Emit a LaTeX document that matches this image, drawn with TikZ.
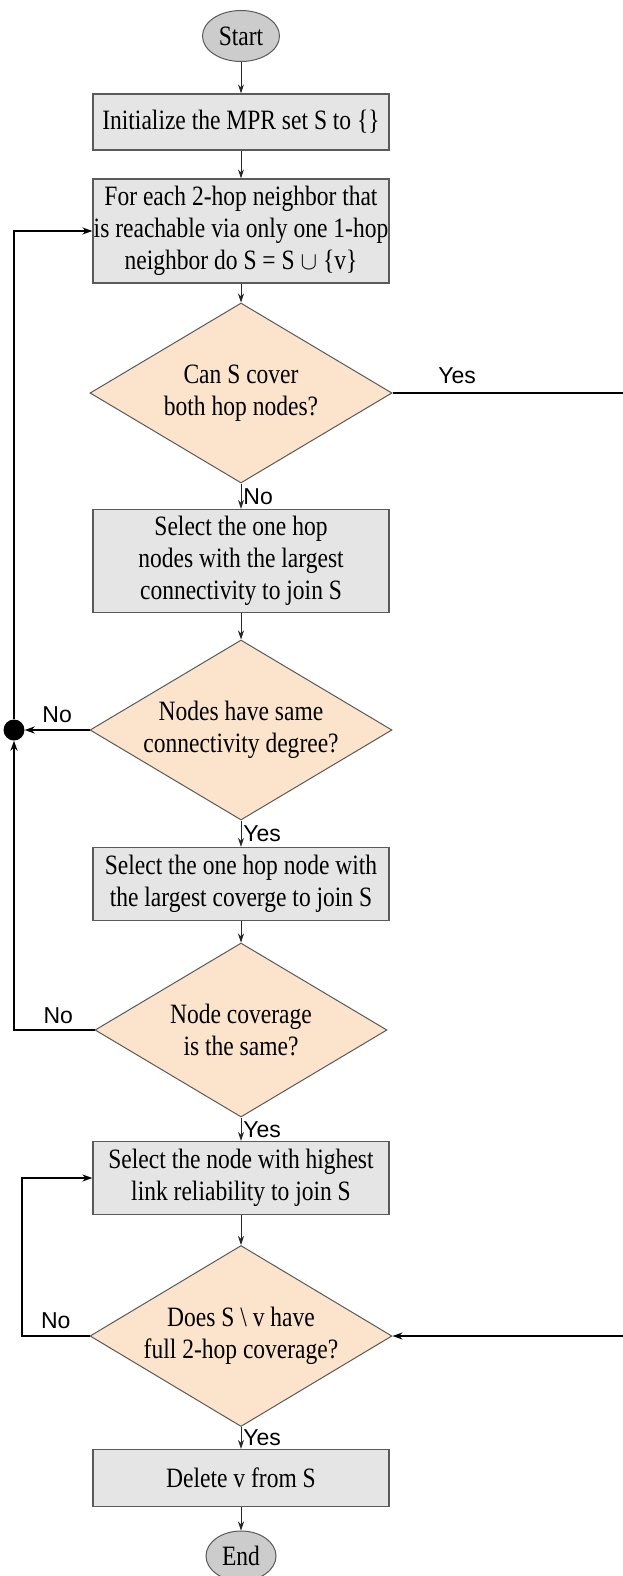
\documentclass[tikz,border=0pt]{standalone}
\usepackage{fontspec}
\setmainfont{Liberation Serif}[FakeStretch=0.84]
\newfontfamily\labelfont{Liberation Sans}
\usepackage{tikz}
\usetikzlibrary{arrows.meta, shapes.geometric, positioning}
\definecolor{boxfill}{RGB}{229,229,229}
\definecolor{decfill}{RGB}{252,228,204}
\definecolor{termfill}{RGB}{204,204,204}
\definecolor{edge}{RGB}{90,90,90}
\tikzset{
  procbox/.style={rectangle, draw=edge, line width=1.2pt, fill=boxfill, minimum width=296pt, inner sep=0pt, align=center},
  decision/.style={diamond, draw=edge, line width=1pt, fill=decfill, aspect=1.68, minimum width=302pt, minimum height=180pt, inner sep=0pt, align=center},
  terminal/.style={ellipse, draw=edge, line width=1pt, fill=termfill, inner sep=0pt},
  flow/.style={-{Stealth[length=9pt,width=6pt]}, draw=black!85, line width=0.9pt},
  loopline/.style={draw=black, line width=1.8pt},
  answer/.style={font=\labelfont\fontsize{23}{25}\selectfont, text=black, inner sep=2pt}
}
\begin{document}
\begin{tikzpicture}[x=1pt, y=-1pt, font=\fontsize{28}{31.7}\selectfont]
    \useasboundingbox (0,0) rectangle (623,1576);
    % main column
    \node[terminal, minimum width=77pt, minimum height=51pt] (start) at (241,36) {Start};
    \node[procbox, minimum height=56pt] (init) at (241,122) {Initialize the MPR set S to \{\}};
    \node[procbox, minimum height=104pt] (each) at (241,231) {For each 2-hop neighbor that\\is reachable via only one 1-hop\\neighbor do S = S \ensuremath{\cup} \{v\}};
    \node[decision] (cover) at (241,393) {Can S cover\\both hop nodes?};
    \node[procbox, minimum height=103pt] (pickconn) at (241,561) {Select the one hop\\nodes with the largest\\connectivity to join S};
    \node[decision] (samedeg) at (241,730) {Nodes have same\\connectivity degree?};
    \node[procbox, minimum height=73pt] (pickcov) at (241,884) {Select the one hop node with\\the largest coverge to join S};
    \node[decision, minimum width=292pt, minimum height=174pt] (samecov) at (241,1030) {Node coverage\\is the same?};
    \node[procbox, minimum height=73pt] (pickrel) at (241,1178) {Select the node with highest\\link reliability to join S};
    \node[decision, minimum height=181pt] (full) at (241,1336) {Does S \textbackslash{} v have\\full 2-hop coverage?};
    \node[procbox, minimum height=57pt] (delete) at (241,1478) {Delete v from S};
    \node[terminal, minimum width=70pt, minimum height=50pt] (end) at (241,1556) {End};

    \draw[flow] (start) -- (init);
    \draw[flow] (init) -- (each);
    \draw[flow] (each) -- (cover);
    \draw[flow] (cover) -- node[answer, right] {No} (pickconn);
    \draw[flow] (pickconn) -- (samedeg);
    \draw[flow] (samedeg) -- node[answer, right] {Yes} (pickcov);
    \draw[flow] (pickcov) -- (samecov);
    \draw[flow] (samecov) -- node[answer, right] {Yes} (pickrel);
    \draw[flow] (pickrel) -- (full);
    \draw[flow] (full) -- node[answer, right] {Yes} (delete);
    \draw[flow] (delete) -- (end);

    % loops back on the left
    \node[circle, fill=black, minimum size=21pt, inner sep=0pt] (join) at (14,730) {};
    \coordinate (covcorner) at (14,1030);
    \coordinate (relcorner) at (22,1336);
    \draw[loopline, -{Stealth[length=10pt,width=7pt]}] (join) |- (each.west);
    \draw[loopline, -{Stealth[length=10pt,width=7pt]}] (samedeg.west) -- node[answer, above=4pt] {No} (join);
    \draw[loopline, -{Stealth[length=10pt,width=7pt]}] (samecov.west) -- node[answer, above=3pt, pos=0.45] {No} (covcorner) -- (join);
    \draw[loopline, -{Stealth[length=10pt,width=7pt]}] (full.west) -- node[answer, above=4pt] {No} (relcorner) |- (pickrel.west);

    % yes branch on the right
    \coordinate (rtop) at (632,393);
    \coordinate (rbot) at (632,1336);
    \draw[loopline, -{Stealth[length=10pt,width=7pt]}] (cover.east) -- node[answer, above=6pt, pos=0.27] {Yes} (rtop) -- (rbot) -- (full.east);
\end{tikzpicture}
\end{document}
